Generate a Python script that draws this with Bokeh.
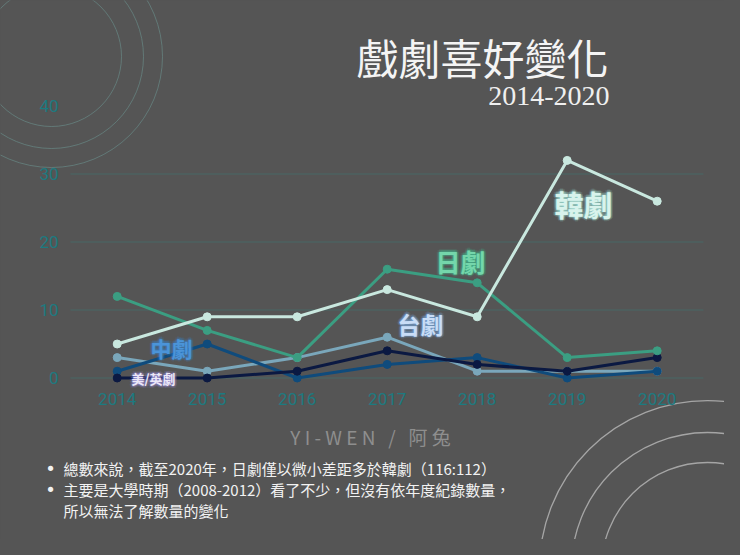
import numpy as np
from bokeh.plotting import figure
from bokeh.models import Range1d, LinearAxis, FixedTicker, GlobalInlineStyleSheet
from bokeh.core.properties import value
from bokeh.embed import file_html
from bokeh.resources import INLINE

# ---------------- data ----------------
years = [2014, 2015, 2016, 2017, 2018, 2019, 2020]
korean = [5, 9, 9, 13, 9, 32, 26]      # 韓劇
japanese = [12, 7, 3, 16, 14, 3, 4]    # 日劇
taiwan = [3, 1, 3, 6, 1, 1, 1]         # 台劇
chinese = [1, 5, 0, 2, 3, 0, 1]        # 中劇
western = [0, 0, 1, 4, 2, 1, 3]        # 美/英劇
y_ticks = [0, 10, 20, 30, 40]
grid_ticks = [0, 10, 20, 30]

title_text = "戲劇喜好變化"
subtitle_text = "2014-2020"
NB = "\u00a0"
author_text = "Y I - W E N" + NB * 3 + "/" + NB * 3 + "阿 兔"
note_lines = [
    "總數來說，截至2020年，日劇僅以微小差距多於韓劇（116:112）",
    "主要是大學時期（2008-2012）看了不少，但沒有依年度紀錄數量，",
    "所以無法了解數量的變化",
]

# ---------------- styles ----------------
BG = "#555555"
TEAL = "#1d7a80"
CJK = "Noto Sans CJK TC"

W, H = 724, 539
p = figure(width=W, height=H,
           x_range=Range1d(2012.7033, 2020.7478),
           y_range=Range1d(-23.75, 55.515),
           output_backend="svg", toolbar_location=None,
           x_axis_location=None, y_axis_location=None,
           min_border=0, background_fill_color=BG, border_fill_color=BG,
           outline_line_color=None)
p.grid.visible = False
p.stylesheets = [GlobalInlineStyleSheet(css="body { background: #555555; }")]

# pixel ranges for decorations / texts
p.extra_x_ranges = {"px": Range1d(0, W)}
p.extra_y_ranges = {"px": Range1d(H, 0)}
PX = dict(x_range_name="px", y_range_name="px")

# decorative arcs
for r in [70, 92, 111]:
    p.circle(x=[51], y=[56], radius=r, fill_alpha=0, line_color="#6e9894",
             line_alpha=0.55, line_width=1, **PX)
for r in [106, 136, 168]:
    p.circle(x=[707], y=[568], radius=r, fill_alpha=0, line_color="#b4b4b4",
             line_alpha=0.85, line_width=1.3, **PX)

# axes
x_left, x_right = 2013.481, 2020.514
yaxis = LinearAxis(fixed_location=x_left, ticker=FixedTicker(ticks=y_ticks),
                   axis_line_color=None, major_tick_line_color=None,
                   minor_tick_line_color=None, major_label_standoff=6,
                   major_label_text_color=TEAL, major_label_text_font="Roboto",
                   major_label_text_font_size="17px")
p.add_layout(yaxis, "left")
xaxis = LinearAxis(fixed_location=0, ticker=FixedTicker(ticks=years),
                   axis_line_color=None, major_tick_line_color=None,
                   minor_tick_line_color=None, major_label_standoff=9,
                   major_label_text_color=TEAL, major_label_text_font="Roboto",
                   major_label_text_font_size="17px")
p.add_layout(xaxis, "below")

# grid lines
p.segment(x0=x_left, x1=x_right, y0=grid_ticks, y1=grid_ticks,
          line_color="#3f7473", line_alpha=0.6, line_width=1)

# series
series = [
    (taiwan, "#7aa7bb"),
    (chinese, "#0f4b7c"),
    (western, "#0b1942"),
    (japanese, "#3b9e82"),
    (korean, "#c9e8df"),
]
for vals, col in series:
    p.line(years, vals, line_color=col, line_width=3)
    p.scatter(years, vals, size=8, fill_color=col, line_color=col)

# glowing series labels
def glow_label(x, y, txt, size, color, glow):
    xs, ys = [], []
    for rad in [1.2, 2.4]:
        for a in np.linspace(0, 2 * np.pi, 8, endpoint=False):
            xs.append(x + rad * np.cos(a))
            ys.append(y + rad * np.sin(a))
    p.text(x=xs, y=ys, text=[txt] * len(xs), text_color=glow, text_alpha=0.13,
           text_font=value(CJK), text_font_size=f"{size}px", text_font_style="bold",
           text_align="center", text_baseline="middle", **PX)
    p.text(x=[x], y=[y], text=[txt], text_color=color,
           text_font=value(CJK), text_font_size=f"{size}px", text_font_style="bold",
           text_align="center", text_baseline="middle", **PX)

glow_label(583, 203, "韓劇", 29, "#d8f3ec", "#a8eee2")
glow_label(460, 260, "日劇", 25, "#74d6ab", "#3fc796")
glow_label(420, 323, "台劇", 23, "#c9ddf6", "#7fb4ee")
glow_label(171, 347, "中劇", 21, "#4b94d8", "#3a86d0")
glow_label(153, 378, "美/英劇", 13, "#ece8f8", "#a596ee")

# titles
p.text(x=[608], y=[56], text=[title_text], text_color="#f4f4f4",
       text_font=value(CJK), text_font_size="42px",
       text_align="right", text_baseline="middle", **PX)
p.text(x=[609], y=[95], text=[subtitle_text], text_color="#efefef",
       text_font=value("Liberation Serif"), text_font_size="28px",
       text_align="right", text_baseline="middle", **PX)

# author
p.text(x=[370], y=[436], text=[author_text], text_color="#8e8e8e",
       text_font=value(CJK), text_font_size="19px",
       text_align="center", text_baseline="middle", **PX)

# notes
note_y = [468, 489, 510]
p.text(x=[50, 50], y=note_y[:2], text=["•", "•"], text_color="#f2f2f2",
       text_font=value("DejaVu Sans"), text_font_size="18px",
       text_align="center", text_baseline="middle", **PX)
p.text(x=[63] * 3, y=note_y, text=note_lines, text_color="#f2f2f2",
       text_font=value(CJK), text_font_size="15px",
       text_align="left", text_baseline="middle", **PX)

open("out.html", "w").write(file_html(p, INLINE))
